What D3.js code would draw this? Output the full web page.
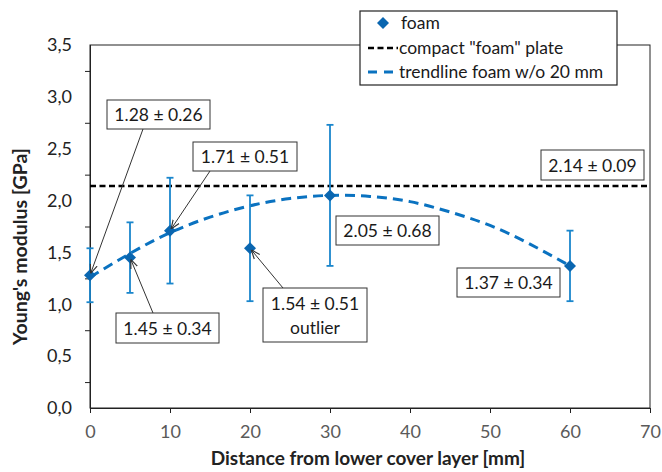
<!DOCTYPE html>
<html><head><meta charset="utf-8">
<script src="https://cdn.jsdelivr.net/npm/d3@7"></script>
<style>
body{margin:0;background:#fff;}
svg{display:block;font-family:Lato,"Open Sans",sans-serif;}
</style></head>
<body><svg id="c" width="662" height="472"></svg>
<script>
// ---- data ----
const distances = [0, 5, 10, 20, 30, 60];
const modulus   = [1.28, 1.45, 1.71, 1.54, 2.05, 1.37];
const stdev     = [0.26, 0.34, 0.51, 0.51, 0.68, 0.34];
const compactValue = 2.14;
const compactStdev = 0.09;
// trendline (foam w/o 20 mm)
const trendX = [0, 5, 10, 15, 20, 25, 30, 35, 40, 45, 50, 55, 60];
const trendY = [1.26, 1.49, 1.69, 1.84, 1.95, 2.02, 2.05, 2.04, 1.99, 1.89, 1.76, 1.58, 1.37];
const xTicks = [0, 10, 20, 30, 40, 50, 60, 70];
const yTicks = [0, 0.5, 1, 1.5, 2, 2.5, 3, 3.5];
const yMinor = [0.25, 0.75, 1.25, 1.75, 2.25, 2.75, 3.25];
const legendLabels = ['foam', 'compact "foam" plate', 'trendline foam w/o 20 mm'];
const xTitle = 'Distance from lower cover layer [mm]';
const yTitle = "Young's modulus [GPa]";

const svg = d3.select('#c');
const L = 90, R = 650, T = 45, B = 408;
const x = d3.scaleLinear().domain([0, 70]).range([L, R]);
const y = d3.scaleLinear().domain([0, 3.5]).range([B, T]);
const blue = '#0a66b0', ebBlue = '#1a86cc';
const fmt = v => v.toFixed(1).replace('.', ',');

// plot frame
svg.append('rect').attr('x', L).attr('y', T).attr('width', R - L).attr('height', B - T)
  .attr('fill', 'none').attr('stroke', '#222').attr('stroke-width', 1);

// axes
const yAx = svg.append('g').attr('transform', `translate(${L},0)`)
  .call(d3.axisLeft(y).tickValues(yTicks).tickFormat(fmt).tickSizeInner(6).tickSizeOuter(0).tickPadding(12));
yAx.selectAll('.tick line').attr('x2', 1);
yAx.selectAll('.tick text').attr('fill', '#222');
svg.append('g').attr('transform', `translate(${L},0)`)
  .call(d3.axisLeft(y).tickValues(yMinor).tickFormat('').tickSizeInner(5).tickSizeOuter(0))
  .call(g => g.select('.domain').remove());
const xAx = svg.append('g').attr('transform', `translate(0,${B})`)
  .call(d3.axisBottom(x).tickValues(xTicks).tickFormat(d3.format('d')).tickSizeInner(5).tickSizeOuter(0).tickPadding(12));
xAx.selectAll('.tick text').attr('fill', '#5a5a5a');
svg.selectAll('.domain').attr('stroke', '#222');
svg.selectAll('.tick line').attr('stroke', '#222');
svg.selectAll('.tick text').attr('font-size', 18).attr('font-family', 'Lato,sans-serif');

// axis titles
svg.append('text').attr('x', 368).attr('y', 465).attr('text-anchor', 'middle')
  .attr('font-size', 19).attr('font-weight', 'bold').attr('fill', '#222').text(xTitle);
svg.append('text').attr('transform', `translate(27,${(T + B) / 2 + 20}) rotate(-90)`).attr('text-anchor', 'middle')
  .attr('font-size', 19.5).attr('font-weight', 'bold').attr('fill', '#222').text(yTitle);

// compact line
svg.append('line').attr('x1', L).attr('x2', R).attr('y1', y(compactValue)).attr('y2', y(compactValue))
  .attr('stroke', '#000').attr('stroke-width', 2.5).attr('stroke-dasharray', '6,3.5');

// trendline
const tl = d3.line().x(d => x(d[0])).y(d => y(d[1])).curve(d3.curveNatural);
svg.append('path').attr('d', tl(trendX.map((v, i) => [v, trendY[i]])))
  .attr('fill', 'none').attr('stroke', '#0a72c0').attr('stroke-width', 3).attr('stroke-dasharray', '10,6');

// error bars
const pts = distances.map((d, i) => ({x: d, y: modulus[i], e: stdev[i]}));
const eb = svg.append('g').attr('stroke', ebBlue).attr('stroke-width', 1.8);
pts.forEach(p => {
  eb.append('line').attr('x1', x(p.x)).attr('x2', x(p.x)).attr('y1', y(p.y - p.e)).attr('y2', y(p.y + p.e));
  [p.y - p.e, p.y + p.e].forEach(v => eb.append('line').attr('x1', x(p.x) - 3.5).attr('x2', x(p.x) + 3.5).attr('y1', y(v)).attr('y2', y(v)));
});
// markers
const diamond = d3.symbol().type(d3.symbolSquare).size(72);
svg.append('g').selectAll('path').data(pts).join('path')
  .attr('d', diamond).attr('transform', d => `translate(${x(d.x)},${y(d.y)}) rotate(45)`)
  .attr('fill', blue);

// arrow marker
svg.append('defs').append('marker').attr('id', 'arr').attr('viewBox', '0 0 10 10')
  .attr('refX', 10).attr('refY', 5).attr('markerWidth', 9).attr('markerHeight', 9)
  .attr('markerUnits', 'userSpaceOnUse').attr('orient', 'auto')
  .append('path').attr('d', 'M0,1 L10,5 L0,9').attr('fill', 'none').attr('stroke', '#333').attr('stroke-width', 1.3);

// annotation boxes
const notes = [
  {b: [107, 100, 210, 129], t: [`${modulus[0].toFixed(2)} ± ${stdev[0].toFixed(2)}`], a: [143, 129], p: 0},
  {b: [193, 142, 297, 171], t: [`${modulus[2].toFixed(2)} ± ${stdev[2].toFixed(2)}`], a: [210, 171], p: 2},
  {b: [116, 313, 219, 343], t: [`${modulus[1].toFixed(2)} ± ${stdev[1].toFixed(2)}`], a: [153, 313], p: 1},
  {b: [263, 288, 367, 342], t: [`${modulus[3].toFixed(2)} ± ${stdev[3].toFixed(2)}`, 'outlier'], a: [283, 288], p: 3},
  {b: [336, 216, 439, 245], t: [`${modulus[4].toFixed(2)} ± ${stdev[4].toFixed(2)}`]},
  {b: [457, 268, 560, 297], t: [`${modulus[5].toFixed(2)} ± ${stdev[5].toFixed(2)}`]},
  {b: [541, 150, 644, 180], t: [`${compactValue.toFixed(2)} ± ${compactStdev.toFixed(2)}`]}
];
notes.forEach(n => {
  if (n.a) {
    const p = pts[n.p];
    const px = x(p.x), py = y(p.y);
    const dx = n.a[0] - px, dy = n.a[1] - py, len = Math.hypot(dx, dy);
    svg.append('line').attr('x1', n.a[0]).attr('y1', n.a[1])
      .attr('x2', px + dx / len * 2).attr('y2', py + dy / len * 2)
      .attr('stroke', '#333').attr('stroke-width', 1).attr('marker-end', 'url(#arr)');
  }
});
notes.forEach(n => {
  const [x0, y0, x1, y1] = n.b;
  svg.append('rect').attr('x', x0).attr('y', y0).attr('width', x1 - x0).attr('height', y1 - y0)
    .attr('fill', '#fff').attr('stroke', '#333').attr('stroke-width', 1);
  const cx = (x0 + x1) / 2;
  const lh = 24, n0 = n.t.length;
  n.t.forEach((s, i) => {
    svg.append('text').attr('x', cx).attr('y', (y0 + y1) / 2 + (i - (n0 - 1) / 2) * lh + 6.5)
      .attr('text-anchor', 'middle').attr('font-size', 17.5).attr('fill', '#1a1a1a').text(s);
  });
});

// legend
const lg = svg.append('g');
lg.append('rect').attr('x', 360).attr('y', 11).attr('width', 257).attr('height', 74)
  .attr('fill', '#fff').attr('stroke', '#222').attr('stroke-width', 1.2);
const ly = [23, 48, 72];
lg.append('path').attr('d', diamond).attr('transform', `translate(383,${ly[0]}) rotate(45)`).attr('fill', blue);
lg.append('line').attr('x1', 368).attr('x2', 398).attr('y1', ly[1]).attr('y2', ly[1])
  .attr('stroke', '#000').attr('stroke-width', 2.5).attr('stroke-dasharray', '6,3.5');
lg.append('line').attr('x1', 368).attr('x2', 398).attr('y1', ly[2]).attr('y2', ly[2])
  .attr('stroke', '#0a72c0').attr('stroke-width', 3).attr('stroke-dasharray', '9,7');
legendLabels.forEach((s, i) => {
  lg.append('text').attr('x', i === 0 ? 401 : 399).attr('y', ly[i] + 6).attr('font-size', 17.5).attr('fill', '#1a1a1a').text(s);
});
</script></body></html>
